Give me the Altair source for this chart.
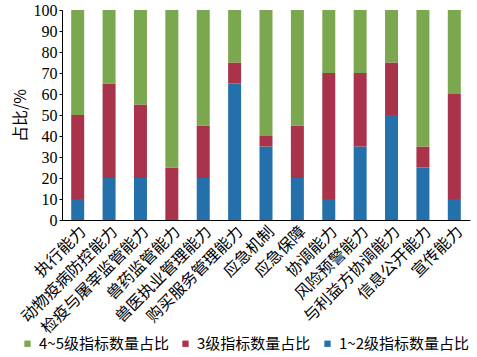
import altair as alt
import pandas as pd

categories = ["执行能力", "动物疫病防控能力", "检疫与屠宰监管能力", "兽药监管能力", "兽医执业管理能力",
              "购买服务管理能力", "应急机制", "应急保障", "协调能力", "风险预警能力",
              "与利益方协调能力", "信息公开能力", "宣传能力"]
level12 = [10, 20, 20, 0, 20, 65, 35, 20, 10, 35, 50, 25, 10]
level3 = [40, 45, 35, 25, 25, 10, 5, 25, 60, 35, 25, 10, 50]
level45 = [50, 35, 45, 75, 55, 25, 60, 55, 30, 30, 25, 65, 40]
series = ["4~5级指标数量占比", "3级指标数量占比", "1~2级指标数量占比"]
colors = ["#7BA84E", "#A8334A", "#2370AA"]

rows = []
for i, c in enumerate(categories):
    rows.append({"cat": c, "s": series[2], "v": level12[i], "ord": 0})
    rows.append({"cat": c, "s": series[1], "v": level3[i], "ord": 1})
    rows.append({"cat": c, "s": series[0], "v": level45[i], "ord": 2})
df = pd.DataFrame(rows)

serif = "Liberation Serif"
cjk = "Noto Sans CJK SC"

chart = alt.Chart(df).mark_bar(size=13).encode(
    x=alt.X("cat:N", sort=categories, title=None,
            axis=alt.Axis(labelAngle=-45, labelFont=cjk, labelFontSize=16, labelColor="#000",
                          ticks=False, domainColor="#000", labelPadding=3)),
    y=alt.Y("v:Q", stack="zero", title="占比/%",
            scale=alt.Scale(domain=[0, 100], nice=False),
            axis=alt.Axis(values=list(range(0, 101, 10)), grid=False, labelFont=serif,
                          labelFontSize=16, labelColor="#000", tickSize=3, tickColor="#000",
                          domainColor="#000", titleFont=cjk, titleFontSize=16,
                          titleFontWeight="normal", titleColor="#000", titlePadding=5)),
    color=alt.Color("s:N", scale=alt.Scale(domain=series, range=colors),
                    legend=alt.Legend(orient="none", legendX=-42, legendY=326, direction="horizontal",
                                      title=None, symbolType="square", symbolSize=40,
                                      labelFont=cjk, labelFontSize=15, labelColor="#000",
                                      columnPadding=9, symbolStrokeWidth=0)),
    order=alt.Order("ord:Q"),
).properties(width=408, height=210, padding={"left": 62, "top": 10, "right": 7, "bottom": 137},
             autosize=alt.AutoSizeParams(type="none")).configure_view(stroke=None)

chart.save("out.html", embed_options={"renderer": "svg", "actions": False})
